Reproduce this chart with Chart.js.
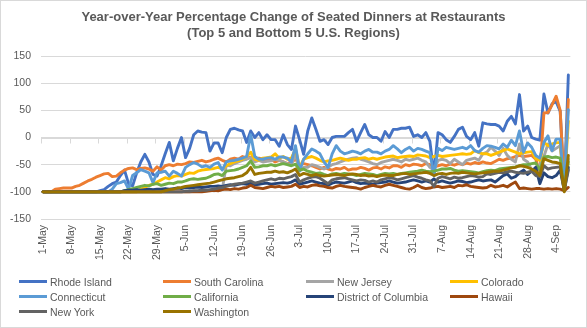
<!DOCTYPE html>
<html>
<head>
<meta charset="utf-8">
<script src="https://cdn.jsdelivr.net/npm/chart.js@4.4.1/dist/chart.umd.min.js"></script>
<style>
  body { margin: 0; background: #fff; }
  #wrap { position: relative; width: 587px; height: 328px; font-family: 'Liberation Sans', Arial, sans-serif; color: #595959; }
  #frame { position: absolute; left: 0; top: 0; width: 585px; height: 326px; border: 1px solid #D9D9D9; pointer-events: none; }
  #title { position: absolute; left: 0; top: 9px; width: 587px; text-align: center; font-weight: bold; font-size: 13px; line-height: 16px; }
  .item { position: absolute; font-size: 10.5px; line-height: 15px; white-space: nowrap; }
  .swatch { display: inline-block; width: 28px; height: 3px; vertical-align: middle; margin-right: 3px; position: relative; top: -1px; }
</style>
</head>
<body>
<div id="wrap">
  <canvas id="chart" width="587" height="328"></canvas>
  <div id="title">Year-over-Year Percentage Change of Seated Dinners at Restaurants<br>(Top 5 and Bottom 5 U.S. Regions)</div>
  <div id="legend"></div>
  <div id="frame"></div>
</div>
<script>
// categories: daily, 1-May to 7-Sep
const months = ['May', 'Jun', 'Jul', 'Aug', 'Sep'];
const monthDays = [31, 30, 31, 31, 7];
const categories = [];
months.forEach((m, i) => {
  for (let d = 1; d <= monthDays[i]; d++) categories.push(d + '-' + m);
});

const yTicks = [-150, -100, -50, 0, 50, 100, 150];

const seriesNames = ['Rhode Island', 'South Carolina', 'New Jersey', 'Colorado', 'Connecticut',
  'California', 'District of Columbia', 'Hawaii', 'New York', 'Washington'];
const seriesColors = ['#4472C4', '#ED7D31', '#A5A5A5', '#FFC000', '#5B9BD5',
  '#70AD47', '#264478', '#9E480E', '#636363', '#997300'];

const rhodeIsland = [
  -100,-100,-100,-100,-100,-100,-100,
  -100,-100,-100,-100,-100,-100,-100,
  -98,-96,-90,-85,-82,-70,-60,
  -85,-89,-65,-45,-31,-45,-68,
  -71,-52,-30,-9,-43,-20,0,
  -37,-20,5,12,10,9,-25,
  -10,-10,-28,0,15,17,14,
  12,-9,12,0,9,-4,5,
  -4,-4,-16,5,-13,-22,21,
  -4,-31,12,36,15,-7,-4,
  -13,0,2,2,2,9,15,
  -7,9,24,5,0,0,-7,
  11,0,15,15,17,17,19,
  2,5,0,9,-7,-68,9,
  5,-4,-9,2,15,19,2,
  -4,9,-16,27,25,24,24,
  21,12,30,39,25,79,12,
  21,0,-3,-5,80,45,62,
  66,48,-95,115];

const southCarolina = [
  -100,-100,-100,-95,-94,-93,-93,
  -93,-90,-88,-84,-80,-77,-73,
  -70,-67,-66,-72,-71,-65,-60,
  -57,-56,-59,-57,-56,-58,-62,
  -54,-60,-52,-50,-52,-49,-50,
  -48,-45,-46,-44,-42,-45,-43,
  -40,-38,-42,-45,-40,-38,-40,
  -35,-38,-36,-40,-38,-40,-42,
  -40,-45,-42,-45,-48,-45,-40,
  -50,-48,-50,-52,-55,-58,-55,
  -58,-60,-57,-58,-55,-60,-58,
  -58,-55,-57,-60,-56,-55,-58,
  -54,-56,-52,-52,-55,-50,-52,
  -49,-50,-52,-48,-50,-55,-52,
  -50,-52,-49,-51,-48,-50,-47,
  -49,-46,-48,-45,-47,-48,-44,
  -40,-42,-39,-38,-35,-33,-35,
  -34,-33,-40,-64,45,46,60,
  76,50,-94,70];

const newJersey = [
  -100,-100,-100,-100,-100,-100,-100,
  -100,-100,-100,-100,-100,-100,-100,
  -100,-100,-100,-100,-100,-100,-100,
  -100,-100,-100,-100,-100,-100,-100,
  -100,-100,-100,-100,-100,-100,-100,
  -100,-100,-99,-99,-98,-98,-97,
  -98,-97,-96,-51,-52,-48,-45,
  -42,-40,-37,-45,-42,-45,-44,
  -43,-40,-42,-45,-48,-50,-30,
  -62,-55,-55,-50,-52,-55,-58,
  -55,-50,-48,-45,-42,-40,-38,
  -37,-40,-42,-45,-48,-50,-46,
  -44,-42,-40,-42,-45,-40,-42,
  -40,-38,-42,-45,-55,-60,-42,
  -40,-42,-48,-40,-45,-50,-42,
  -40,-38,-42,-30,-27,-18,-25,
  -33,-20,-33,-40,-45,-12,-40,
  -45,-60,-65,-50,-35,-12,-25,
  -20,-15,-94,-40];

const colorado = [
  -100,-100,-100,-100,-100,-100,-100,
  -100,-100,-100,-100,-100,-100,-100,
  -100,-100,-100,-100,-100,-100,-100,
  -100,-100,-100,-95,-92,-88,-86,
  -82,-78,-74,-76,-72,-70,-71,
  -68,-65,-66,-62,-60,-59,-58,
  -57,-55,-58,-52,-48,-45,-43,
  -40,-35,-27,-40,-42,-38,-37,
  -36,-30,-38,-35,-40,-38,-21,
  -55,-40,-37,-35,-38,-42,-45,
  -43,-42,-40,-38,-40,-42,-40,
  -40,-38,-37,-40,-38,-40,-38,
  -36,-35,-34,-37,-36,-35,-34,
  -35,-32,-33,-34,-37,-35,-33,
  -35,-34,-33,-32,-31,-30,-31,
  -30,-24,-28,-30,-30,-33,-30,
  -27,-24,-21,-24,-27,-30,-28,
  -27,-26,-39,-42,-9,-15,-12,
  -10,-9,-94,30];

const connecticut = [
  -100,-100,-100,-100,-100,-100,-100,
  -100,-100,-100,-100,-100,-100,-100,
  -100,-100,-100,-95,-85,-83,-80,
  -95,-70,-65,-59,-62,-65,-83,
  -65,-64,-62,-71,-62,-66,-71,
  -55,-50,-46,-49,-54,-52,-55,
  -49,-46,-60,-45,-43,-42,-40,
  -38,-35,5,-35,-40,-40,-38,
  -37,-40,-36,-36,-38,-45,-15,
  -61,-40,-30,-21,-25,-30,-45,
  -55,-30,-15,-25,-30,-28,-25,
  -27,-30,-25,-22,-27,-27,-30,
  -25,-22,-15,-21,-28,-22,-18,
  -25,-20,-22,-25,-28,-70,-20,
  -24,-18,-20,-22,-20,-18,-21,
  -15,-24,-27,-20,-15,-16,-18,
  -21,-12,-18,-5,-15,12,-27,
  -10,-18,-33,-38,-9,3,-24,
  -3,-3,-94,51];

const california = [
  -100,-100,-100,-100,-100,-100,-100,
  -100,-100,-100,-100,-100,-100,-100,
  -100,-100,-100,-100,-100,-100,-98,
  -96,-94,-92,-90,-88,-89,-86,
  -85,-88,-86,-84,-85,-82,-82,
  -80,-77,-76,-77,-76,-75,-72,
  -68,-67,-70,-62,-61,-60,-58,
  -55,-52,-43,-55,-54,-52,-52,
  -50,-52,-50,-48,-50,-52,-49,
  -60,-58,-62,-64,-66,-65,-68,
  -70,-67,-66,-68,-66,-67,-68,
  -70,-68,-66,-67,-68,-70,-68,
  -66,-67,-66,-68,-66,-65,-64,
  -63,-62,-60,-62,-63,-62,-60,
  -58,-58,-57,-60,-62,-61,-62,
  -63,-64,-65,-63,-61,-60,-61,
  -58,-57,-56,-55,-54,-52,-50,
  -50,-48,-47,-60,-36,-35,-37,
  -36,-38,-96,-45];

const districtOfColumbia = [
  -100,-100,-100,-100,-100,-100,-100,-100,-100,-100,
  -100,-100,-100,-100,-100,-100,-100,-100,-100,-100,
  -98,-97,-97,-96,-97,-96,-95,-96,-95,-95,
  -94,-95,-94,-93,-94,-92,-93,-92,-91,-92,
  -91,-90,-90,-89,-90,-88,-87,-88,-86,-85,
  -86,-84,-87,-86,-85,-84,-86,-85,-84,-83,
  -84,-82,-78,-86,-84,-82,-80,-82,-84,-85,
  -88,-84,-82,-83,-84,-82,-80,-83,-85,-84,
  -85,-86,-84,-83,-82,-80,-82,-84,-83,-82,
  -80,-78,-80,-82,-80,-82,-76,-82,-80,-82,
  -84,-82,-80,-81,-83,-82,-80,-78,-80,-79,
  -78,-82,-76,-70,-67,-75,-72,-65,-60,-68,
  -62,-55,-85,-65,-72,-74,-70,-60,-97,-55];

const hawaii = [
  -100,-100,-100,-100,-100,-100,-100,-100,-100,-100,
  -100,-100,-100,-100,-100,-100,-100,-100,-100,-100,
  -100,-100,-100,-100,-100,-100,-100,-100,-100,-100,
  -100,-100,-100,-100,-100,-100,-100,-100,-100,-100,
  -99,-98,-97,-98,-96,-95,-96,-94,-95,-93,
  -92,-88,-92,-93,-94,-92,-90,-91,-90,-92,
  -91,-90,-86,-92,-90,-91,-88,-87,-89,-90,
  -92,-93,-90,-88,-90,-91,-92,-93,-95,-92,
  -90,-88,-90,-91,-88,-86,-88,-90,-92,-94,
  -95,-92,-88,-92,-94,-93,-91,-90,-92,-91,
  -90,-92,-88,-89,-87,-90,-91,-92,-93,-92,
  -88,-91,-90,-88,-91,-86,-82,-94,-93,-94,
  -95,-94,-94,-95,-94,-95,-94,-95,-98,-92];

const newYork = [
  -100,-100,-100,-100,-100,-100,-100,
  -100,-100,-100,-100,-100,-100,-100,
  -100,-100,-100,-100,-100,-100,-100,
  -100,-100,-100,-100,-100,-100,-100,
  -100,-100,-100,-100,-100,-100,-100,
  -99,-99,-98,-98,-97,-97,-96,
  -95,-93,-92,-90,-88,-86,-85,
  -84,-82,-80,-84,-82,-80,-78,
  -76,-78,-75,-76,-74,-72,-68,
  -82,-78,-75,-73,-72,-75,-80,
  -85,-78,-76,-75,-74,-76,-78,
  -80,-78,-79,-82,-80,-82,-78,
  -76,-74,-75,-78,-76,-74,-72,
  -70,-73,-75,-78,-80,-90,-75,
  -72,-74,-76,-73,-75,-74,-72,
  -70,-71,-73,-72,-67,-68,-66,
  -64,-65,-63,-62,-64,-65,-66,
  -64,-62,-70,-72,-52,-58,-56,
  -55,-54,-97,-60];

const washington = [
  -100,-100,-100,-100,-100,-100,-100,
  -100,-100,-100,-100,-100,-100,-100,
  -100,-100,-100,-100,-100,-100,-100,
  -100,-100,-100,-100,-100,-100,-100,
  -100,-100,-98,-96,-95,-93,-92,
  -90,-89,-88,-87,-86,-85,-84,
  -82,-80,-78,-76,-75,-74,-72,
  -70,-65,-55,-68,-66,-65,-64,
  -64,-62,-64,-63,-65,-62,-58,
  -70,-66,-68,-70,-68,-70,-71,
  -70,-69,-68,-69,-70,-68,-67,
  -68,-70,-69,-71,-70,-72,-70,
  -69,-70,-70,-68,-67,-66,-68,
  -67,-66,-65,-64,-66,-70,-67,
  -66,-68,-66,-65,-66,-64,-65,
  -66,-67,-66,-65,-64,-63,-62,
  -62,-60,-58,-56,-55,-52,-53,
  -55,-58,-62,-70,-39,-42,-45,
  -46,-48,-100,-33];

const seriesValues = [rhodeIsland, southCarolina, newJersey, colorado, connecticut,
  california, districtOfColumbia, hawaii, newYork, washington];

const fontFamily = "'Liberation Sans', Arial, sans-serif";
const textColor = '#595959';

// horizontal category axis crosses at 0, with tick marks every 7 days
const zeroAxis = {
  id: 'zeroAxis',
  beforeDatasetsDraw(chart) {
    const { ctx, chartArea, scales: { x, y } } = chart;
    const y0 = Math.round(y.getPixelForValue(0)) + 0.5;
    const half = (x.getPixelForValue(1) - x.getPixelForValue(0)) / 2;
    ctx.save();
    ctx.strokeStyle = '#D9D9D9';
    ctx.lineWidth = 1;
    ctx.beginPath();
    ctx.moveTo(chartArea.left, y0);
    ctx.lineTo(chartArea.right, y0);
    for (let i = 0; i < categories.length; i += 7) {
      const tx = Math.round(x.getPixelForValue(i) - half) + 0.5;
      ctx.moveTo(tx, y0);
      ctx.lineTo(tx, y0 + 5);
    }
    ctx.stroke();
    ctx.restore();
  }
};

const datasets = seriesNames.map((name, i) => ({
  label: name,
  data: seriesValues[i],
  borderColor: seriesColors[i],
  backgroundColor: seriesColors[i],
  borderWidth: 2.9,
  pointRadius: 0,
  tension: 0,
  borderJoinStyle: 'round',
  borderCapStyle: 'round',
  order: seriesNames.length - i   // later series drawn on top, like Excel
}));

new Chart(document.getElementById('chart').getContext('2d'), {
  type: 'line',
  data: { labels: categories, datasets: datasets },
  options: {
    responsive: false,
    animation: false,
    layout: { padding: { top: 56, right: 14, bottom: 0, left: 0 } },
    plugins: {
      legend: { display: false },
      title: { display: false },
      tooltip: { enabled: false }
    },
    scales: {
      x: {
        offset: true,
        grid: { display: false, drawTicks: false },
        border: { display: false },
        ticks: {
          autoSkip: false,
          minRotation: 90,
          maxRotation: 90,
          padding: 6,
          color: textColor,
          font: { family: fontFamily, size: 10.5 },
          callback: (v, i) => (i % 7 === 0 ? categories[i] : '')
        },
        afterFit: (scale) => { scale.height = 109; }
      },
      y: {
        min: yTicks[0],
        max: yTicks[yTicks.length - 1],
        afterBuildTicks: (scale) => { scale.ticks = yTicks.map(v => ({ value: v })); },
        grid: { color: '#D9D9D9', drawTicks: false },
        border: { display: false },
        ticks: {
          padding: 10,
          color: textColor,
          font: { family: fontFamily, size: 10.5 }
        },
        afterFit: (scale) => { scale.width = 41; }
      }
    }
  },
  plugins: [zeroAxis]
});

// legend: 4 columns x 3 rows
const legend = document.getElementById('legend');
const colX = [19, 163, 306, 450];
const rowY = [282, 297, 312];
seriesNames.forEach((name, i) => {
  const el = document.createElement('div');
  el.className = 'item';
  el.style.left = colX[i % 4] + 'px';
  el.style.top = (rowY[Math.floor(i / 4)] - 7.5) + 'px';
  el.innerHTML = '<span class="swatch" style="background:' + seriesColors[i] + '"></span>' + name;
  legend.appendChild(el);
});
</script>
</body>
</html>
